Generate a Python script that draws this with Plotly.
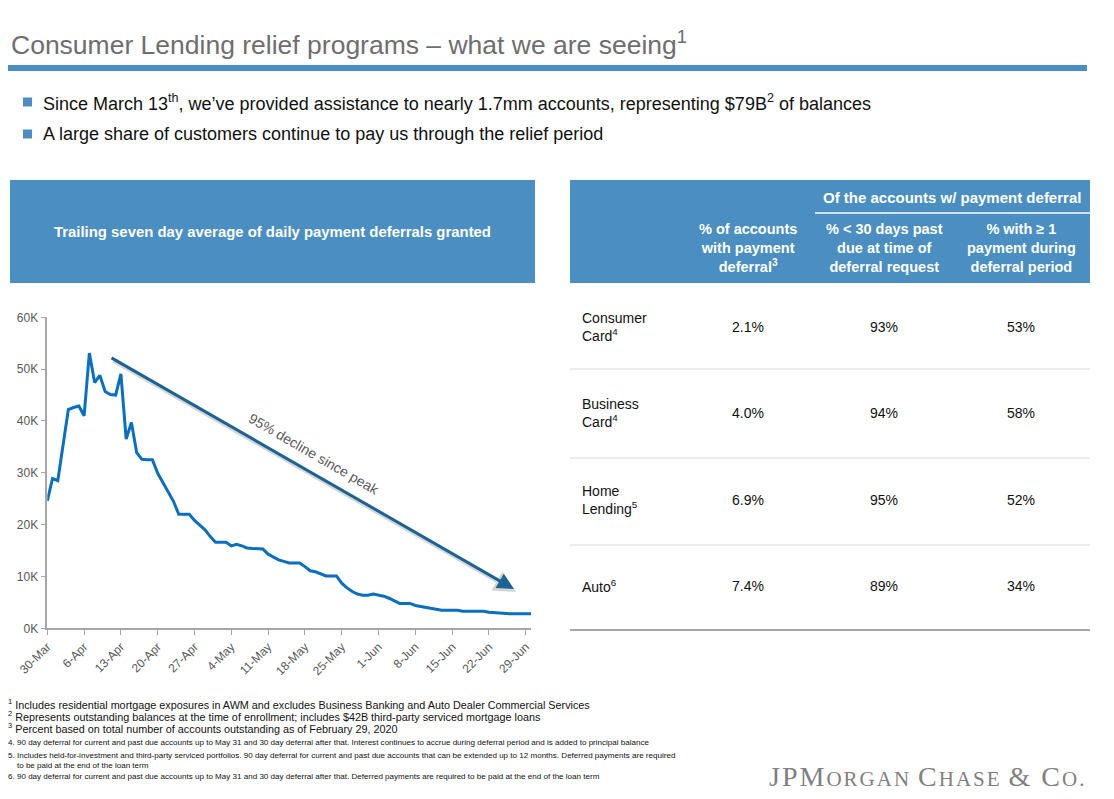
import plotly.graph_objects as go
import pandas as pd

W, H = 1114, 799
OFF = 8  # page body margin of the viewer

# ---------------- data ----------------
start_date = "2020-03-30"
deferrals_k = [
    24.6, 28.9, 28.5, 35.5, 42.2, 42.6, 42.9, 41.0, 53.1, 47.4,
    48.8, 45.7, 45.1, 45.0, 49.1, 36.5, 39.7, 33.9, 32.6, 32.5,
    32.5, 29.9, 28.0, 26.4, 24.5, 22.0, 22.0, 22.0, 20.8, 19.9,
    19.0, 17.7, 16.6, 16.6, 16.6, 15.9, 16.2, 15.9, 15.5, 15.4,
    15.4, 15.3, 14.3, 13.8, 13.2, 12.9, 12.6, 12.6, 12.6, 11.9,
    11.1, 10.9, 10.5, 10.1, 10.1, 10.1, 8.7, 7.8, 7.1, 6.6,
    6.4, 6.4, 6.6, 6.4, 6.2, 5.8, 5.3, 4.8, 4.8, 4.8,
    4.4, 4.2, 4.0, 3.8, 3.6, 3.5, 3.5, 3.5, 3.5, 3.3,
    3.3, 3.3, 3.3, 3.3, 3.1, 3.0, 2.9, 2.8, 2.8, 2.8,
    2.8, 2.8, 2.8,
]
dates = pd.date_range(start_date, periods=len(deferrals_k), freq="D")
x_tick_dates = ["2020-03-30", "2020-04-06", "2020-04-13", "2020-04-20", "2020-04-27",
                "2020-05-04", "2020-05-11", "2020-05-18", "2020-05-25", "2020-06-01",
                "2020-06-08", "2020-06-15", "2020-06-22", "2020-06-29"]
x_tick_labels = ["30-Mar", "6-Apr", "13-Apr", "20-Apr", "27-Apr", "4-May", "11-May",
                 "18-May", "25-May", "1-Jun", "8-Jun", "15-Jun", "22-Jun", "29-Jun"]
y_tick_vals = [0, 10, 20, 30, 40, 50, 60]
y_tick_labels = ["0K", "10K", "20K", "30K", "40K", "50K", "60K"]

row_labels = ["Consumer<br>Card<sup>4</sup>", "Business<br>Card<sup>4</sup>",
              "Home<br>Lending<sup>5</sup>", "Auto<sup>6</sup>"]
pct_accounts_deferral = ["2.1%", "4.0%", "6.9%", "7.4%"]
pct_under_30dpd = ["93%", "94%", "95%", "89%"]
pct_one_payment = ["53%", "58%", "52%", "34%"]
col_headers = ["% of accounts<br>with payment<br>deferral<sup>3</sup>",
               "% &lt; 30 days past<br>due at time of<br>deferral request",
               "% with ≥ 1<br>payment during<br>deferral period"]

# ---------------- helpers ----------------
def px(x):
    return (x - OFF) / W

def py(y):
    return 1 - (y - OFF) / H

FONT = "Liberation Sans, Arial, sans-serif"
BLUE = "#4A8EC2"
LINE_BLUE = "#0A6FC0"
GREY_TXT = "#595959"

fig = go.Figure()
fig.add_trace(go.Scatter(
    x=dates, y=deferrals_k, mode="lines",
    line=dict(color=LINE_BLUE, width=3), hoverinfo="skip", showlegend=False,
))

shapes = []
annotations = []

# title
annotations.append(dict(
    text="Consumer Lending relief programs – what we are seeing<sup>1</sup>",
    x=px(9), y=py(43), xref="paper", yref="paper", xanchor="left", yanchor="middle",
    showarrow=False, font=dict(family=FONT, size=26.5, color="#6E6E6E"),
))
shapes.append(dict(type="rect", xref="paper", yref="paper", x0=px(8), x1=px(1087),
                   y0=py(65), y1=py(71), fillcolor=BLUE, line=dict(width=0)))

# bullets
bullets = [
    "Since March 13<sup>th</sup>, we’ve provided assistance to nearly 1.7mm accounts, representing $79B<sup>2</sup> of balances",
    "A large share of customers continue to pay us through the relief period",
]
for btxt, by in zip(bullets, [102, 134]):
    shapes.append(dict(type="rect", xref="paper", yref="paper", x0=px(23), x1=px(32),
                       y0=py(by - 4.5), y1=py(by + 4.5), fillcolor=BLUE, line=dict(width=0)))
    annotations.append(dict(
        text=btxt, x=px(41), y=py(by), xref="paper", yref="paper", xanchor="left",
        yanchor="middle", showarrow=False, font=dict(family=FONT, size=18, color="#111111"),
    ))

# left header box
shapes.append(dict(type="rect", xref="paper", yref="paper", x0=px(10), x1=px(535),
                   y0=py(180), y1=py(283), fillcolor=BLUE, line=dict(width=0)))
annotations.append(dict(
    text="<b>Trailing seven day average of daily payment deferrals granted</b>",
    x=px(272), y=py(232), xref="paper", yref="paper", xanchor="center", yanchor="middle",
    showarrow=False, font=dict(family=FONT, size=14.9, color="white"),
))

# right table header
shapes.append(dict(type="rect", xref="paper", yref="paper", x0=px(570), x1=px(1090),
                   y0=py(180), y1=py(283), fillcolor=BLUE, line=dict(width=0)))
annotations.append(dict(
    text="<b>Of the accounts w/ payment deferral</b>",
    x=px(952), y=py(197), xref="paper", yref="paper", xanchor="center", yanchor="middle",
    showarrow=False, font=dict(family=FONT, size=15, color="white"),
))
shapes.append(dict(type="line", xref="paper", yref="paper", x0=px(815), x1=px(1090),
                   y0=py(213), y1=py(213), line=dict(color="white", width=1.5)))
col_x = [748, 884, 1021]
for cx, ch in zip(col_x, col_headers):
    annotations.append(dict(
        text="<b>" + ch + "</b>", x=px(cx), y=py(248), xref="paper", yref="paper",
        xanchor="center", yanchor="middle", showarrow=False, align="center",
        font=dict(family=FONT, size=14.5, color="white"),
    ))

row_y = [327, 413, 500, 586]
for ry, lab, a, b, c in zip(row_y, row_labels, pct_accounts_deferral, pct_under_30dpd, pct_one_payment):
    annotations.append(dict(
        text=lab, x=px(580), y=py(ry), xref="paper", yref="paper", xanchor="left",
        yanchor="middle", showarrow=False, align="left",
        font=dict(family=FONT, size=14, color="#111111"),
    ))
    for cx, v in zip(col_x, [a, b, c]):
        annotations.append(dict(
            text=v, x=px(cx), y=py(ry), xref="paper", yref="paper", xanchor="center",
            yanchor="middle", showarrow=False, font=dict(family=FONT, size=14, color="#111111"),
        ))
for sy in [369, 458, 545]:
    shapes.append(dict(type="line", xref="paper", yref="paper", x0=px(570), x1=px(1090),
                       y0=py(sy), y1=py(sy), line=dict(color="#D9D9D9", width=1.2)))
shapes.append(dict(type="line", xref="paper", yref="paper", x0=px(570), x1=px(1090),
                   y0=py(630), y1=py(630), line=dict(color="#A6A6A6", width=2)))

# arrow (with soft shadow) and label
for dx, dy, col, wd in [(2, 3, "rgba(0,0,0,0.16)", 4), (0, 0, "#1B6394", 3)]:
    annotations.append(dict(
        x=px(514 + dx), y=py(589 + dy), xref="paper", yref="paper",
        ax=-404, ay=-232, axref="pixel", ayref="pixel",
        showarrow=True, arrowhead=2, arrowsize=1.1, arrowwidth=wd, arrowcolor=col, text="",
    ))
annotations.append(dict(
    text="95% decline since peak", x=px(314), y=py(454), xref="paper", yref="paper",
    xanchor="center", yanchor="middle", showarrow=False, textangle=30,
    font=dict(family=FONT, size=14, color=GREY_TXT),
))

# footnotes
fn_big = [
    (704, "<sup>1</sup> Includes residential mortgage exposures in AWM and excludes Business Banking and Auto Dealer Commercial Services"),
    (716, "<sup>2</sup> Represents outstanding balances at the time of enrollment; includes $42B third-party serviced mortgage loans"),
    (728, "<sup>3</sup> Percent based on total number of accounts outstanding as of February 29, 2020"),
]
for fy, ft in fn_big:
    annotations.append(dict(
        text=ft, x=px(6), y=py(fy), xref="paper", yref="paper", xanchor="left",
        yanchor="middle", showarrow=False, font=dict(family=FONT, size=10.8, color="#111111"),
    ))
fn_small = [
    (742, "4. 90 day deferral for current and past due accounts up to May 31 and 30 day deferral after that. Interest continues to accrue during deferral period and is added to principal balance"),
    (760, "5. Includes held-for-investment and third-party serviced portfolios. 90 day deferral for current and past due accounts that can be extended up to 12 months. Deferred payments are required<br>    to be paid at the end of the loan term"),
    (776, "6. 90 day deferral for current and past due accounts up to May 31 and 30 day deferral after that. Deferred payments are required to be paid at the end of the loan term"),
]
for fy, ft in fn_small:
    annotations.append(dict(
        text=ft, x=px(6), y=py(fy), xref="paper", yref="paper", xanchor="left",
        yanchor="middle", showarrow=False, align="left",
        font=dict(family=FONT, size=8.05, color="#111111"),
    ))

# logo
sc = "font-size:21px;letter-spacing:2px"
annotations.append(dict(
    text=("<span style='letter-spacing:2px'>JPM</span><span style='" + sc + "'>ORGAN</span> "
          "<span style='letter-spacing:2px'>C</span><span style='" + sc + "'>HASE</span> "
          "<span style='letter-spacing:2px'>&amp; C</span><span style='" + sc + "'>O.</span>"),
    x=px(1088), y=py(776), xref="paper", yref="paper", xanchor="right", yanchor="middle",
    showarrow=False, font=dict(family="Liberation Serif, Times New Roman, serif", size=28, color="#808080"),
))

fig.update_layout(
    width=W, height=H, margin=dict(l=0, r=0, t=0, b=0, autoexpand=False),
    paper_bgcolor="white", plot_bgcolor="white",
    shapes=shapes, annotations=annotations, showlegend=False,
    xaxis=dict(
        domain=[px(47.3), px(531)], type="date", automargin=False,
        range=["2020-03-30", "2020-06-30"],
        tickvals=x_tick_dates, ticktext=x_tick_labels, tickangle=-45,
        showgrid=False, zeroline=False, showline=True, linecolor="#A6A6A6", linewidth=1.5,
        ticks="outside", ticklen=5, tickcolor="#A6A6A6",
        tickfont=dict(family=FONT, size=12, color=GREY_TXT),
    ),
    yaxis=dict(
        domain=[py(628.3), py(317.3)], range=[0, 60], automargin=False,
        tickvals=y_tick_vals, ticktext=y_tick_labels,
        showgrid=False, zeroline=False, showline=True, linecolor="#A6A6A6", linewidth=1.5,
        ticks="outside", ticklen=5, tickcolor="#A6A6A6",
        tickfont=dict(family=FONT, size=12, color=GREY_TXT),
    ),
)

fig.write_html("out.html")
